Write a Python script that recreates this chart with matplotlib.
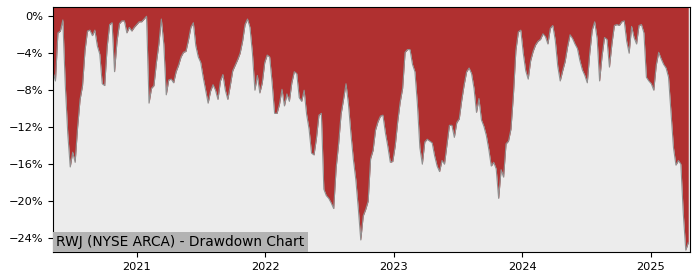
import numpy as np
import pandas as pd
import matplotlib
matplotlib.use("Agg")
import matplotlib.pyplot as plt
import matplotlib.dates as mdates
from matplotlib.ticker import FuncFormatter

# weekly drawdown values (%)
start_date = "2020-05-07"
drawdown = [
    -6.0, -7.0, -1.8, -1.6, -0.4, -7.5, -12.7, -16.3, -14.7, -15.8,
    -12.0, -9.0, -7.5, -3.7, -1.6, -1.5, -2.1, -1.5, -3.2, -4.1,
    -7.3, -7.5, -3.3, -0.9, -0.7, -6.0, -2.7, -0.8, -0.5, -0.5,
    -1.8, -1.2, -1.6, -1.2, -0.9, -0.6, -0.6, -0.3, 0.0, -9.4,
    -7.8, -7.5, -5.0, -3.0, -0.3, -3.0, -8.5, -6.9, -6.8, -7.2,
    -6.0, -5.3, -4.4, -3.9, -3.8, -2.6, -1.2, -0.7, -3.2, -4.4,
    -5.0, -6.6, -8.0, -9.4, -8.1, -7.4, -8.0, -9.0, -7.0, -6.3,
    -8.0, -9.0, -7.5, -5.9, -5.3, -4.7, -4.0, -2.7, -0.9, -0.3,
    -1.2, -4.0, -8.0, -6.4, -8.3, -7.2, -5.0, -4.2, -4.4, -7.2,
    -10.5, -10.5, -9.5, -7.9, -9.7, -8.4, -9.2, -7.2, -6.0, -6.2,
    -8.8, -9.2, -8.0, -10.6, -12.2, -14.8, -15.0, -13.2, -10.7, -10.5,
    -18.7, -19.4, -19.7, -20.2, -20.8, -16.4, -13.8, -10.6, -9.0, -7.3,
    -9.5, -12.7, -15.5, -17.7, -20.8, -24.2, -21.6, -20.9, -20.0, -15.4,
    -14.5, -12.3, -11.4, -10.8, -10.7, -12.6, -14.1, -15.8, -15.7, -14.0,
    -11.4, -9.3, -7.8, -3.9, -3.6, -3.6, -5.2, -6.0, -9.5, -14.2,
    -16.0, -13.6, -13.3, -13.5, -13.7, -15.1, -16.2, -16.8, -15.6, -16.0,
    -13.9, -11.8, -11.8, -13.1, -11.5, -11.1, -9.1, -7.4, -6.0, -5.6,
    -6.2, -7.8, -10.4, -8.9, -11.2, -11.9, -12.9, -14.4, -16.2, -15.8,
    -16.5, -19.7, -16.6, -17.4, -13.8, -13.5, -12.2, -8.5, -3.7, -1.7,
    -1.5, -4.0, -5.9, -6.8, -4.8, -3.8, -3.1, -2.7, -2.5, -1.9,
    -2.2, -3.0, -1.3, -1.0, -2.6, -5.4, -7.0, -5.9, -4.9, -3.3,
    -2.0, -2.4, -3.0, -3.5, -4.8, -5.8, -6.4, -7.2, -4.0, -1.5,
    -0.6, -2.4, -7.0, -4.3, -2.3, -2.5, -5.5, -3.0, -1.0, -0.9,
    -1.0, -0.6, -0.5, -2.7, -4.0, -1.1, -2.3, -3.0, -1.0, -0.9,
    -1.8, -6.6, -7.0, -7.3, -8.0, -5.3, -3.9, -4.6, -5.2, -5.6,
    -6.6, -10.4, -14.2, -16.1, -15.6, -16.0, -21.4, -25.3, -24.5,
]
dates = pd.date_range(start_date, periods=len(drawdown), freq="7D")
yticks = [0, -4, -8, -12, -16, -20, -24]
title = "RWJ (NYSE ARCA) - Drawdown Chart"

y_top = 1.0
fig = plt.figure(figsize=(7, 2.8), dpi=100)
ax = fig.add_axes([0.0757, 0.1, 0.91, 0.875])
ax.set_facecolor("#ececec")

# red from the top of the axes down to the drawdown curve
ax.fill_between(dates, drawdown, y_top, color="#b03030", linewidth=0)
ax.plot(dates, drawdown, color="#909090", linewidth=0.8)

ax.set_xlim(dates[0], dates[-1] + pd.Timedelta(days=5))
ax.set_ylim(-25.5, y_top)
ax.set_yticks(yticks)
ax.yaxis.set_major_formatter(FuncFormatter(lambda v, p: f"{v:.0f}%".replace("-", "\u2212")))
ax.xaxis.set_major_locator(mdates.YearLocator())
ax.xaxis.set_major_formatter(mdates.DateFormatter("%Y"))
ax.tick_params(labelsize=8.2)

ax.text(0.0047, 0.012, title, transform=ax.transAxes, fontsize=9.9,
        ha="left", va="bottom",
        bbox=dict(facecolor="#b3b3b3", edgecolor="none", pad=2.5))

fig.savefig("out.png", dpi=100)
